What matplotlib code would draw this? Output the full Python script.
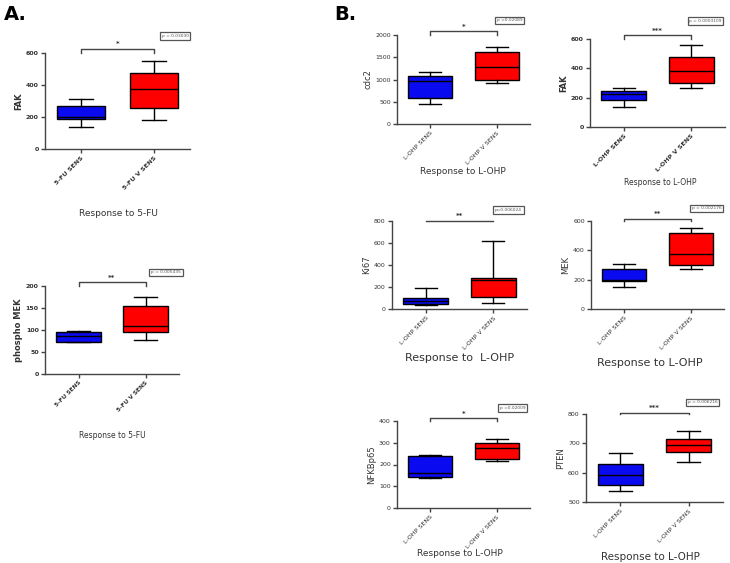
import matplotlib
matplotlib.use("Agg")
import matplotlib.pyplot as plt

W, H = 730, 563

# ---- data: (whisker low, Q1, median, Q3, whisker high) ----
groups_5fu = ["5-FU SENS", "5-FU V SENS"]
groups_lohp = ["L-OHP SENS", "L-OHP V SENS"]

fak_5fu_sens = [137, 185, 200, 270, 310]
fak_5fu_vsens = [180, 255, 375, 475, 550]
pmek_5fu_sens = [72, 72, 87, 95, 97]
pmek_5fu_vsens = [78, 96, 108, 154, 174]
cdc2_sens = [457, 592, 974, 1071, 1176]
cdc2_vsens = [914, 989, 1273, 1610, 1738]
fak_lohp_sens = [138, 183, 222, 247, 269]
fak_lohp_vsens = [269, 297, 380, 478, 557]
ki67_sens = [33, 45, 69, 97, 187]
ki67_vsens = [54, 106, 260, 284, 619]
mek_sens = [151, 192, 201, 276, 310]
mek_vsens = [276, 303, 372, 516, 554]
nfkb_sens = [140, 144, 163, 239, 245]
nfkb_vsens = [216, 227, 278, 297, 315]
pten_sens = [536, 559, 592, 631, 667]
pten_vsens = [637, 672, 694, 715, 741]

fig = plt.figure(figsize=(W / 100, H / 100), dpi=100)

def add_ax(l, t, r, b):
    return fig.add_axes([l / W, 1 - b / H, (r - l) / W, (b - t) / H])

TXT = "#333333"

def panel(box, sens, vsens, labels, ylim, yticks, ylabel, stars, ptext,
          pbox, xlabel, xlabel_y, xlabel_x, xlfs=6.5, ylfs=6, bold=True,
          brack_top=None, xtfs=4.6):
    l, t, r, b = box
    ax = add_ax(l, t, r, b)
    stats = []
    for s in (sens, vsens):
        stats.append(dict(whislo=s[0], q1=s[1], med=s[2], q3=s[3], whishi=s[4]))
    bp = ax.bxp(stats, positions=[1, 2], widths=0.66, patch_artist=True,
                showfliers=False, capwidths=0.33,
                medianprops=dict(color="black", lw=1.0),
                whiskerprops=dict(color="black", lw=1.0),
                capprops=dict(color="black", lw=1.0),
                boxprops=dict(edgecolor="black", lw=1.0))
    bp["boxes"][0].set_facecolor("#0a0af0")
    bp["boxes"][1].set_facecolor("#ff0000")
    ax.set_xlim(0.5, 2.5)
    ax.set_ylim(*ylim)
    ax.set_yticks(yticks)
    w = "bold" if bold else "normal"
    ax.set_yticklabels([str(v) for v in yticks], fontsize=4.5, color=TXT,
                       fontweight=w)
    ax.set_xticks([1, 2])
    ax.set_xticklabels(labels, rotation=45, ha="right", rotation_mode="anchor",
                       fontsize=xtfs, color=TXT, fontweight=w)
    for sp in ("top", "right"):
        ax.spines[sp].set_visible(False)
    for sp in ("left", "bottom"):
        ax.spines[sp].set_color("#444444")
        ax.spines[sp].set_linewidth(1.0)
    ax.tick_params(length=3, width=1, color="#444444", pad=1.5)
    ax.set_ylabel(ylabel, fontsize=ylfs, color=TXT, fontweight=w, labelpad=2)
    ax.patch.set_alpha(0)
    # significance bracket
    span = ylim[1] - ylim[0]
    top = ylim[1] + 0.04 * span if brack_top is None else brack_top
    ax.plot([1, 1, 2, 2], [ylim[1], top, top, ylim[1]], color="#444444",
            lw=1.0, clip_on=False)
    ax.text(1.5, top + 0.02 * span, stars, ha="center", va="bottom",
            fontsize=5, color=TXT, fontweight="bold")
    # p-value box
    pl, pt, pr, pb = pbox
    fig.text(((pl + pr) / 2) / W, 1 - ((pt + pb) / 2) / H, ptext,
             ha="center", va="center", fontsize=3.2, color="#555555",
             bbox=dict(boxstyle="square,pad=0.35", fc="white",
                       ec="#555555", lw=0.9))
    fig.text(xlabel_x / W, 1 - xlabel_y / H, xlabel, ha="center",
             va="center", fontsize=xlfs, color=TXT)
    return ax

# Panel A
panel((45, 53, 190, 149), fak_5fu_sens, fak_5fu_vsens, groups_5fu,
      (0, 600), [0, 200, 400, 600], "FAK", "*", "p = 0.03030",
      (160, 31, 190, 41), "Response to 5-FU", 213, 118, xlfs=6.5)
panel((45, 286, 179, 374), pmek_5fu_sens, pmek_5fu_vsens, groups_5fu,
      (0, 200), [0, 50, 100, 150, 200], "phospho MEK", "**", "p = 0.005435",
      (151, 268, 181, 277), "Response to 5-FU", 435, 112, xlfs=5.5,
      xtfs=4.2)

# Panel B
panel((397, 35, 530, 124), cdc2_sens, cdc2_vsens, groups_lohp,
      (0, 2000), [0, 500, 1000, 1500, 2000], "cdc2", "*", "p =0.02089",
      (495, 17, 524, 24), "Response to L-OHP", 172, 463, xlfs=6.5,
      bold=False)
panel((590, 39, 725, 127), fak_lohp_sens, fak_lohp_vsens, groups_lohp,
      (0, 600), [0, 200, 400, 600], "FAK", "***", "p = 0.0003109",
      (692, 18, 719, 24), "Response to L-OHP", 183, 660, xlfs=5.5)
panel((392, 221, 527, 309), ki67_sens, ki67_vsens, groups_lohp,
      (0, 800), [0, 200, 400, 600, 800], "Ki67", "**", "p=0.006024",
      (493, 207, 524, 213), "Response to  L-OHP", 358, 460, xlfs=8,
      bold=False, brack_top=800)
panel((591, 221, 724, 309), mek_sens, mek_vsens, groups_lohp,
      (0, 600), [0, 200, 400, 600], "MEK", "**", "p = 0.002176",
      (696, 205, 717, 212), "Response to L-OHP", 363, 650, xlfs=8,
      bold=False, brack_top=612)
panel((397, 421, 530, 508), nfkb_sens, nfkb_vsens, groups_lohp,
      (0, 400), [0, 100, 200, 300, 400], "NFKBp65", "*", "p =0.02009",
      (498, 404, 527, 412), "Response to L-OHP", 554, 460, xlfs=6.5,
      bold=False, brack_top=412)
panel((586, 414, 723, 502), pten_sens, pten_vsens, groups_lohp,
      (500, 800), [500, 600, 700, 800], "PTEN", "***", "p = 0.006216",
      (685, 399, 720, 406), "Response to L-OHP", 557, 650, xlfs=7.5,
      bold=False, brack_top=805)

fig.text(4 / W, 1 - 14 / H, "A.", fontsize=14, fontweight="bold",
         va="center", ha="left")
fig.text(334 / W, 1 - 14 / H, "B.", fontsize=14, fontweight="bold",
         va="center", ha="left")

fig.savefig("out.png", dpi=100)
